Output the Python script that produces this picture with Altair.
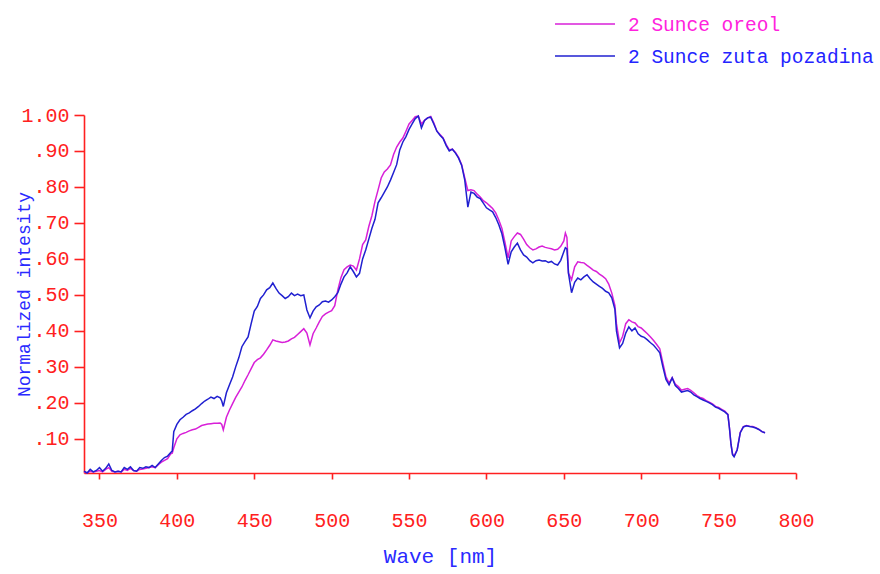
import altair as alt
import pandas as pd

# ---------------- data ----------------
wavelength = [
    340, 342, 344, 346, 348, 350, 352, 354, 356, 358, 360, 362, 364, 366, 368, 370,
    372, 374, 376, 378, 380, 382, 384, 386, 388, 390, 392, 394, 396, 397, 398, 400,
    402, 404, 406, 408, 410, 412, 414, 416, 418, 420, 422, 424, 426, 428, 429, 430,
    432, 434, 436, 438, 440, 442, 444, 446, 448, 450, 452, 454, 456, 458, 460, 462,
    464, 466, 468, 470, 472, 474, 476, 478, 480, 482, 484, 486, 488, 490, 492, 494,
    496, 498, 500, 502, 504, 506, 508, 510, 512, 514, 516, 518, 520, 522, 524, 526,
    528, 530, 532, 534, 536, 538, 540, 542, 544, 546, 548, 550, 552, 554, 556, 558,
    560, 562, 564, 566, 568, 570, 572, 574, 576, 578, 580, 582, 584, 586, 588, 590,
    592, 594, 596, 598, 600, 602, 604, 606, 608, 610, 612, 614, 616, 618, 620, 622,
    624, 626, 628, 630, 632, 634, 636, 638, 640, 642, 644, 646, 648, 650, 651, 652,
    653, 655, 657, 659, 661, 663, 665, 667, 669, 671, 673, 675, 677, 679, 681, 683,
    684, 686, 688, 690, 692, 694, 696, 698, 700, 702, 704, 706, 708, 710, 712, 714,
    716, 718, 720, 722, 724, 726, 728, 730, 732, 734, 736, 738, 740, 742, 744, 746,
    748, 750, 752, 754, 756, 757, 758, 759, 760, 762, 764, 766, 768, 770, 772, 774,
    776, 778, 780,
]

zuta_pozadina = [
    0.010, 0.005, 0.015, 0.008, 0.012, 0.020, 0.010, 0.018, 0.030, 0.012, 0.008, 0.010, 0.008, 0.020, 0.015, 0.022,
    0.012, 0.010, 0.020, 0.018, 0.022, 0.020, 0.026, 0.020, 0.030, 0.040, 0.048, 0.052, 0.062, 0.066, 0.120, 0.140,
    0.153, 0.160, 0.168, 0.172, 0.178, 0.183, 0.190, 0.198, 0.205, 0.210, 0.216, 0.212, 0.218, 0.214, 0.205, 0.190,
    0.228, 0.250, 0.272, 0.300, 0.325, 0.356, 0.370, 0.383, 0.420, 0.455, 0.468, 0.490, 0.500, 0.514, 0.520, 0.533,
    0.518, 0.505, 0.498, 0.490, 0.495, 0.505, 0.498, 0.502, 0.498, 0.500, 0.458, 0.436, 0.455, 0.467, 0.472, 0.481,
    0.483, 0.480, 0.486, 0.495, 0.506, 0.530, 0.550, 0.561, 0.578, 0.565, 0.550, 0.560, 0.600, 0.625, 0.655, 0.685,
    0.710, 0.756, 0.770, 0.785, 0.800, 0.819, 0.840, 0.862, 0.903, 0.925, 0.940, 0.960, 0.975, 0.990, 0.997, 0.964,
    0.985, 0.992, 0.994, 0.975, 0.955, 0.944, 0.935, 0.915, 0.900, 0.905, 0.894, 0.880, 0.860, 0.819, 0.744, 0.786,
    0.782, 0.772, 0.768, 0.755, 0.742, 0.736, 0.731, 0.715, 0.695, 0.670, 0.630, 0.585, 0.620, 0.633, 0.644, 0.625,
    0.611, 0.605, 0.595, 0.589, 0.595, 0.597, 0.594, 0.595, 0.590, 0.593, 0.586, 0.583, 0.596, 0.620, 0.631, 0.628,
    0.560, 0.506, 0.535, 0.547, 0.542, 0.550, 0.556, 0.545, 0.536, 0.530, 0.524, 0.518, 0.510, 0.506, 0.492, 0.460,
    0.400, 0.353, 0.365, 0.394, 0.411, 0.400, 0.408, 0.392, 0.385, 0.382, 0.375, 0.367, 0.360, 0.350, 0.339, 0.300,
    0.265, 0.250, 0.269, 0.248, 0.240, 0.230, 0.232, 0.234, 0.230, 0.222, 0.217, 0.212, 0.208, 0.204, 0.200, 0.195,
    0.188, 0.185, 0.180, 0.175, 0.167, 0.130, 0.085, 0.056, 0.050, 0.069, 0.117, 0.133, 0.136, 0.134, 0.133, 0.130,
    0.126, 0.120, 0.117,
]

oreol = [
    0.008, 0.006, 0.010, 0.008, 0.010, 0.012, 0.008, 0.015, 0.020, 0.010, 0.008, 0.010, 0.008, 0.015, 0.012, 0.018,
    0.012, 0.010, 0.015, 0.016, 0.018, 0.020, 0.022, 0.020, 0.028, 0.035, 0.040, 0.045, 0.058, 0.060, 0.075, 0.100,
    0.111, 0.115, 0.118, 0.122, 0.125, 0.127, 0.132, 0.137, 0.139, 0.141, 0.142, 0.143, 0.143, 0.144, 0.140, 0.125,
    0.160, 0.180, 0.198, 0.215, 0.230, 0.244, 0.262, 0.278, 0.295, 0.312, 0.320, 0.325, 0.335, 0.347, 0.360, 0.375,
    0.372, 0.370, 0.368, 0.369, 0.372, 0.378, 0.382, 0.390, 0.398, 0.406, 0.394, 0.361, 0.392, 0.408, 0.425, 0.440,
    0.447, 0.452, 0.456, 0.470, 0.514, 0.548, 0.570, 0.578, 0.583, 0.580, 0.569, 0.600, 0.640, 0.653, 0.690, 0.720,
    0.760, 0.792, 0.825, 0.842, 0.850, 0.861, 0.890, 0.911, 0.925, 0.936, 0.955, 0.975, 0.985, 0.995, 0.997, 0.975,
    0.985, 0.992, 0.996, 0.978, 0.955, 0.946, 0.936, 0.918, 0.903, 0.905, 0.896, 0.882, 0.862, 0.825, 0.790, 0.792,
    0.790, 0.780, 0.772, 0.762, 0.756, 0.748, 0.740, 0.728, 0.708, 0.685, 0.645, 0.603, 0.650, 0.662, 0.672, 0.668,
    0.655, 0.640, 0.631, 0.625, 0.628, 0.633, 0.636, 0.632, 0.630, 0.628, 0.625, 0.627, 0.635, 0.650, 0.672, 0.660,
    0.561, 0.542, 0.578, 0.592, 0.590, 0.589, 0.582, 0.576, 0.569, 0.565, 0.558, 0.552, 0.545, 0.530, 0.505, 0.470,
    0.420, 0.367, 0.385, 0.420, 0.431, 0.425, 0.422, 0.412, 0.408, 0.400, 0.392, 0.383, 0.373, 0.362, 0.350, 0.310,
    0.272, 0.255, 0.270, 0.252, 0.245, 0.235, 0.238, 0.240, 0.235, 0.228, 0.220, 0.215, 0.212, 0.206, 0.202, 0.197,
    0.190, 0.187, 0.182, 0.177, 0.168, 0.130, 0.085, 0.058, 0.052, 0.070, 0.118, 0.134, 0.137, 0.135, 0.134, 0.131,
    0.126, 0.120, 0.117,
]

series_names = ["2 Sunce oreol", "2 Sunce zuta pozadina"]
line_colors = ["#d820d8", "#2020d0"]
legend_text_colors = ["#ff22dd", "#2424ff"]

x_ticks = [350, 400, 450, 500, 550, 600, 650, 700, 750, 800]
y_ticks = [0.1, 0.2, 0.3, 0.4, 0.5, 0.6, 0.7, 0.8, 0.9, 1.0]

RED = "#ff2020"
BLUE = "#2a2aff"
FONT = "Liberation Mono"

n = len(wavelength)
df = pd.DataFrame({
    "wave": wavelength + wavelength,
    "value": oreol + zuta_pozadina,
    "series": [series_names[0]] * n + [series_names[1]] * n,
})

x_enc = alt.X(
    "wave:Q",
    scale=alt.Scale(domain=[340, 800], nice=False, zero=False),
    axis=alt.Axis(
        values=x_ticks, grid=False, title="Wave [nm]", labelFlush=False, labelOverlap=False,
        domainColor=RED, domainWidth=1.6, tickColor=RED, tickWidth=1.6, tickSize=6,
        labelColor=RED, labelFont=FONT, labelFontSize=20, labelPadding=31,
        titleColor=BLUE, titleFont=FONT, titleFontSize=21, titleFontWeight="normal",
        titleY=83, titleBaseline="middle",
    ),
)
y_enc = alt.Y(
    "value:Q",
    scale=alt.Scale(domain=[0.005, 1.0], nice=False, zero=False),
    axis=alt.Axis(
        values=y_ticks, grid=False, title="Normalized intesity", labelFlush=False, labelOverlap=False,
        labelExpr="datum.value >= 0.999 ? '1.00' : replace(format(datum.value, '.2f'), '0.', '.')",
        domainColor=RED, domainWidth=1.6, tickColor=RED, tickWidth=1.6, tickSize=10,
        labelColor=RED, labelFont=FONT, labelFontSize=20, labelPadding=5,
        titleColor=BLUE, titleFont=FONT, titleFontSize=18, titleFontWeight="normal",
        titleX=-60, titleY=179, titleAngle=270, titleAlign="center", titleBaseline="middle",
    ),
)

lines = alt.Chart(df).mark_line(strokeWidth=1.5).encode(
    x=x_enc,
    y=y_enc,
    color=alt.Color("series:N", scale=alt.Scale(domain=series_names, range=line_colors), legend=None),
)

legend_df = pd.DataFrame({"series": series_names, "row": [0, 1]})
legend_layers = []
legend_y = [-91, -59]
for i, name in enumerate(series_names):
    base = alt.Chart(legend_df).transform_filter(alt.datum.row == i)
    legend_layers.append(
        base.mark_rule(color=line_colors[i], strokeWidth=1.4).encode(
            x=alt.value(471), x2=alt.value(531), y=alt.value(legend_y[i])
        )
    )
    legend_layers.append(
        base.mark_text(align="left", baseline="middle", font=FONT, fontSize=19.5,
                       color=legend_text_colors[i]).encode(
            x=alt.value(544), y=alt.value(legend_y[i] + 1), text="series:N"
        )
    )

chart = alt.layer(lines, *legend_layers).properties(
    width=712, height=358,
    autosize=alt.AutoSizeParams(type="none"),
    padding={"left": 84, "top": 115, "right": 84, "bottom": 101},
    background="white",
).configure_view(stroke=None)

chart.save("out.html", embed_options={"renderer": "svg", "actions": False})
